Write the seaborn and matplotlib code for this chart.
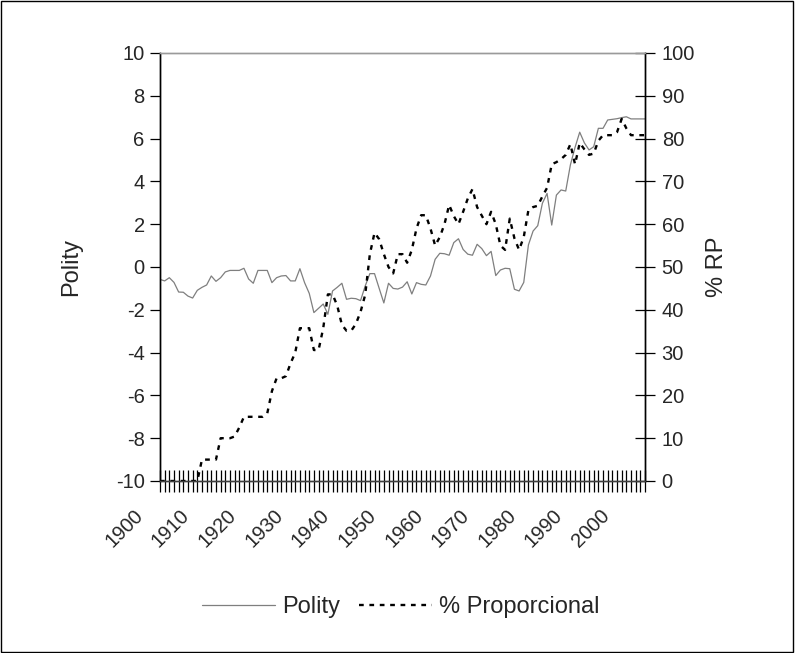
import matplotlib
matplotlib.use("Agg")
import pandas as pd
import matplotlib.pyplot as plt
import seaborn as sns
from matplotlib.patches import Rectangle
from matplotlib.ticker import MultipleLocator
from matplotlib.transforms import ScaledTranslation

# =========================
# Data
# =========================
years = list(range(1900, 2005))

polity = [
    -0.58, -0.65, -0.50, -0.72, -1.17, -1.18, -1.36, -1.45, -1.09, -0.95,  # 1900s
    -0.84, -0.42, -0.67, -0.50, -0.23, -0.16, -0.16, -0.16, -0.06, -0.56,  # 1910s
    -0.76, -0.16, -0.16, -0.16, -0.73, -0.50, -0.42, -0.40, -0.65, -0.65,  # 1920s
    -0.08, -0.73, -1.23, -2.13, -1.93, -1.73, -2.21, -1.12, -0.95, -0.76,  # 1930s
    -1.51, -1.46, -1.48, -1.57, -0.89, -0.31, -0.31, -1.00, -1.68, -0.76,  # 1940s
    -1.00, -1.03, -0.94, -0.69, -1.26, -0.73, -0.81, -0.84, -0.42, 0.36,   # 1950s
    0.64, 0.62, 0.55, 1.14, 1.32, 0.82, 0.60, 0.55, 1.06, 0.86,            # 1960s
    0.53, 0.73, -0.40, -0.14, -0.06, -0.08, -1.04, -1.12, -0.72, 1.03,     # 1970s
    1.68, 1.93, 2.98, 3.44, 1.96, 3.36, 3.60, 3.55, 4.77, 5.59,            # 1980s
    6.30, 5.80, 5.47, 5.62, 6.48, 6.48, 6.87, 6.90, 6.93, 6.98,            # 1990s
    7.02, 6.92, 6.92, 6.92, 6.92,                                          # 2000s
]

pct_rp = [
    0, 0, 0, 0, 0, 0, 0, 0, 0, 5,                                          # 1900s
    5, 5, 5, 10, 10, 10, 10.4, 12.5, 15, 15,                               # 1910s
    15, 15, 15, 15.8, 21, 24, 24, 24.5, 27.5, 30,                          # 1920s
    35.7, 35.7, 35.7, 30.6, 30.6, 35.7, 43.6, 43.6, 41, 36.5,              # 1930s
    35.1, 35.1, 36.7, 39.5, 43.5, 53, 58, 56.5, 53, 50,                    # 1940s
    48.5, 53, 53, 51, 54, 59, 62.1, 62.1, 59, 55,                          # 1950s
    57, 60, 64.5, 61.9, 60, 62.9, 66, 68.2, 64, 62,                        # 1960s
    60, 62.9, 60, 55, 54, 61.3, 56.7, 54, 57, 63.3,                        # 1970s
    64, 64.3, 66.5, 68.5, 74, 74.5, 75.2, 76.2, 78.7, 74,                  # 1980s
    79, 77.5, 76.2, 76.5, 79.5, 80.8, 80.8, 80.8, 81.5, 84.6,              # 1990s
    82.4, 80.8, 80.8, 80.8, 80.8,                                          # 2000s
]

label_years = list(range(1900, 2001, 10))

df = pd.DataFrame({"Year": years, "Polity": polity, "RP": pct_rp})

# =========================
# Style
# =========================
sns.set_theme(style="white")
plt.rcParams.update({
    "font.family": ["Liberation Sans", "DejaVu Sans"],
    "font.size": 14.5,
    "axes.linewidth": 1.0,
    "axes.unicode_minus": False,
})

tick_fs = 14.5
label_fs = 17

fig = plt.figure(figsize=(7.95, 6.53), dpi=100)
ax = fig.add_axes([160 / 795, 172 / 653, 485 / 795, 428 / 653])
ax2 = ax.twinx()

sns.lineplot(data=df, x="Year", y="Polity", ax=ax, color="#7f7f7f",
             linewidth=0.9, label="Polity", legend=False)
sns.lineplot(data=df, x="Year", y="RP", ax=ax2, color="black",
             linewidth=1.7, linestyle=(0, (2.0, 2.4)),
             label="% Proporcional", legend=False)

# =========================
# Axes
# =========================
ax.set_xlim(1900, 2004)
ax.set_ylim(-10, 10)
ax2.set_ylim(0, 100)
ax.set_yticks(range(-10, 11, 2))
ax2.set_yticks(range(0, 101, 10))

ax.set_xticks(label_years)
ax.xaxis.set_minor_locator(MultipleLocator(1))
ax.set_xticklabels([str(y) for y in label_years], rotation=45, ha="right",
                   va="center", rotation_mode="anchor", fontsize=tick_fs)

ax.tick_params(axis="x", which="both", direction="inout", length=16,
               width=0.9, color="black", pad=14.6, bottom=True)
ax.tick_params(axis="y", which="major", direction="out", length=7,
               width=0.9, color="black", labelsize=tick_fs, left=True, pad=4)
ax2.tick_params(axis="y", which="major", direction="inout", length=14,
                width=0.9, color="black", labelsize=tick_fs, right=True, pad=5)

# Excel-style offset of the rotated year labels (after tick_params, which resets transforms)
shift = ScaledTranslation(-20 / 100, 0, fig.dpi_scale_trans)
for tick in ax.xaxis.get_major_ticks():
    tick.label1.set_transform(tick.label1.get_transform() + shift)

for a in (ax, ax2):
    a.spines["top"].set_color("#9a9a9a")
    a.spines["bottom"].set_color("#404040")
    a.spines["left"].set_color("black")
    a.spines["right"].set_color("black")
    a.grid(False)

ax.set_xlabel("")
ax.set_ylabel("Polity", fontsize=label_fs)
ax2.set_ylabel("% RP", fontsize=label_fs)
ax.yaxis.set_label_coords(-0.160, 0.5)
ax2.yaxis.set_label_coords(1.126, 0.5)

# =========================
# Legend below the plot
# =========================
h1, l1 = ax.get_legend_handles_labels()
h2, l2 = ax2.get_legend_handles_labels()
fig.legend(h1 + h2, l1 + l2, loc="center", ncol=2,
           bbox_to_anchor=(401 / 795, 1 - 607 / 653), frameon=False,
           fontsize=label_fs, handlelength=3.1, handletextpad=0.3,
           columnspacing=0.8)

# outer frame of the chart area
fig.patches.append(Rectangle((0.001, 0.001), 0.997, 0.997, transform=fig.transFigure,
                             fill=False, edgecolor="black", linewidth=1.0))

fig.savefig("out.png", dpi=100)
